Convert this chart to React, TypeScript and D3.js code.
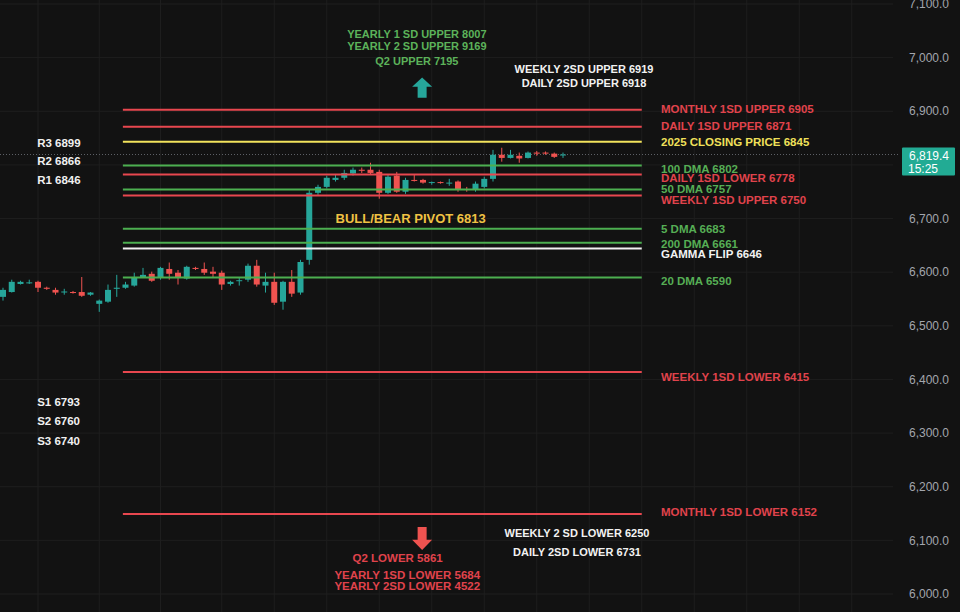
import React from "react";
import * as d3 from "d3";

const W = 960;
const H = 612;

// ---- candle data (price) ----
const opens = [6554, 6563, 6578, 6580, 6582, 6571, 6567, 6563, 6563, 6563, 6558, 6541, 6545, 6569, 6571, 6575, 6591, 6597, 6590, 6606, 6599, 6588, 6608, 6606, 6601, 6599, 6578, 6584, 6586, 6612, 6575, 6582, 6545, 6582, 6562, 6623, 6748, 6759, 6772, 6776, 6784, 6791, 6791, 6787, 6748, 6780, 6750, 6772, 6772, 6767, 6768, 6766, 6769, 6755, 6754, 6759, 6774, 6819, 6813, 6817, 6813, 6823, 6823, 6821, 6819];
const highs = [6571, 6586, 6584, 6586, 6584, 6573, 6571, 6569, 6565, 6591, 6563, 6549, 6577, 6595, 6582, 6599, 6608, 6601, 6610, 6618, 6604, 6612, 6610, 6618, 6610, 6603, 6584, 6590, 6616, 6623, 6599, 6599, 6584, 6604, 6623, 6754, 6763, 6780, 6782, 6791, 6795, 6795, 6804, 6791, 6782, 6787, 6776, 6782, 6774, 6769, 6769, 6774, 6771, 6759, 6769, 6778, 6828, 6832, 6828, 6823, 6825, 6826, 6825, 6823, 6823];
const lows = [6547, 6562, 6577, 6578, 6563, 6567, 6558, 6558, 6560, 6554, 6556, 6526, 6543, 6554, 6569, 6573, 6590, 6582, 6586, 6586, 6577, 6586, 6604, 6595, 6591, 6567, 6575, 6575, 6582, 6573, 6562, 6539, 6530, 6554, 6558, 6614, 6744, 6756, 6769, 6772, 6780, 6785, 6782, 6737, 6746, 6748, 6746, 6769, 6765, 6763, 6765, 6761, 6750, 6750, 6750, 6756, 6769, 6806, 6812, 6804, 6812, 6817, 6819, 6813, 6813];
const closes = [6567, 6582, 6582, 6581, 6571, 6569, 6562, 6564, 6562, 6556, 6562, 6547, 6567, 6571, 6577, 6591, 6595, 6584, 6608, 6597, 6590, 6610, 6606, 6599, 6597, 6577, 6582, 6585, 6612, 6577, 6582, 6543, 6582, 6560, 6619, 6748, 6759, 6776, 6776, 6785, 6791, 6789, 6785, 6748, 6778, 6750, 6772, 6771, 6767, 6768, 6767, 6767, 6754, 6754, 6765, 6774, 6819, 6813, 6819, 6812, 6823, 6821, 6821, 6815, 6819.4];

// ---- level lines ----
const levelValues = [6903, 6871, 6843, 6799, 6782, 6754, 6743, 6681, 6655, 6644, 6590, 6414, 6149];
const levelKinds = ["red", "red", "yellow", "green", "red", "green", "red", "green", "green", "white", "green", "red", "red"];
const levelLabels = [
  "MONTHLY 1SD UPPER 6905",
  "DAILY 1SD UPPER 6871",
  "2025 CLOSING PRICE 6845",
  "100 DMA 6802",
  "DAILY 1SD LOWER 6778",
  "50 DMA 6757",
  "WEEKLY 1SD UPPER 6750",
  "5 DMA 6683",
  "200 DMA 6661",
  "GAMMA FLIP 6646",
  "20 DMA 6590",
  "WEEKLY 1SD LOWER 6415",
  "MONTHLY 1SD LOWER 6152",
];
const levelLabelAt = [6905, 6873, 6843, 6793, 6776, 6756, 6735, 6681, 6653, 6634, 6584, 6405, 6153];

// ---- pivot labels ----
const resistLabels = ["R3 6899", "R2 6866", "R1 6846"];
const resistAt = [6841, 6808, 6771];
const supportLabels = ["S1 6793", "S2 6760", "S3 6740"];
const supportAt = [6358, 6323, 6285];

// ---- annotations ----
const upperTargets = ["YEARLY 1 SD UPPER 8007", "YEARLY 2 SD UPPER 9169", "Q2 UPPER  7195"];
const upperTargetsAt = [7043, 7022, 6994];
const upper2sd = ["WEEKLY 2SD UPPER 6919", "DAILY 2SD UPPER 6918"];
const upper2sdAt = [6979, 6953];
const lowerTargets = ["Q2 LOWER 5861", "YEARLY 1SD LOWER 5684", "YEARLY 2SD LOWER 4522"];
const lowerTargetsAt = [6067, 6035, 6015];
const lower2sd = ["WEEKLY 2 SD LOWER 6250", "DAILY 2SD LOWER 6731"];
const lower2sdAt = [6114, 6078];
const pivotText = "BULL/BEAR PIVOT 6813";
const pivotAt = 6701;

const yTicks = [6000, 6100, 6200, 6300, 6400, 6500, 6600, 6700, 6800, 6900, 7000, 7100];
const timeGrid = [4, 11, 18, 25, 31, 37, 43, 49, 55, 61, 67, 73, 79, 85, 91, 97];
const lastPrice = 6819.4;
const lastTime = "15:25";

const COLORS: Record<string, string> = {
  red: "#e8474f",
  green: "#4caf50",
  yellow: "#f2e35c",
  white: "#f2f2f2",
};
const LABEL_COLORS: Record<string, string> = {
  red: "#e0434c",
  green: "#56ae55",
  yellow: "#f0e05a",
  white: "#f2f2f2",
};
const UP = "#26a69a";
const DOWN = "#ef5350";
const FONT = "'Liberation Sans', Arial, sans-serif";

export default function App() {
  const x = d3.scaleLinear().domain([0, 64]).range([3, 563]);
  const y = d3.scaleLinear().domain([6000, 7100]).range([594, 4]);
  const bodyW = 6;
  const fmt = d3.format(",.1f");

  const arrowUp = (cx: number, top: number, bottom: number, color: string) => {
    const head = (bottom - top) * 0.45;
    const d = `M${cx},${top} L${cx + 10},${top + head} L${cx + 4.5},${top + head} L${cx + 4.5},${bottom} L${cx - 4.5},${bottom} L${cx - 4.5},${top + head} L${cx - 10},${top + head} Z`;
    return <path d={d} fill={color} />;
  };
  const arrowDown = (cx: number, top: number, bottom: number, color: string) => {
    const head = (bottom - top) * 0.45;
    const d = `M${cx},${bottom} L${cx + 10},${bottom - head} L${cx + 4.5},${bottom - head} L${cx + 4.5},${top} L${cx - 4.5},${top} L${cx - 4.5},${bottom - head} L${cx - 10},${bottom - head} Z`;
    return <path d={d} fill={color} />;
  };

  const lineX0 = x(13.7);
  const lineX1 = x(73);
  const labelX = x(75.2);

  return (
    <div style={{ position: "fixed", left: 0, top: 0, width: W, height: H }}>
      <svg width={W} height={H} style={{ display: "block", background: "#121212" }} fontFamily={FONT}>
        <rect width={W} height={H} fill="#121212" />
        {/* grid */}
        {yTicks.map((t) => (
          <line key={"gy" + t} x1={0} x2={893} y1={y(t)} y2={y(t)} stroke="#1e1e1e" strokeWidth={1} />
        ))}
        {timeGrid.map((t) => (
          <line key={"gx" + t} x1={x(t)} x2={x(t)} y1={0} y2={H} stroke="#1e1e1e" strokeWidth={1} />
        ))}
        {/* last price dotted line */}
        <line x1={0} x2={900} y1={y(lastPrice)} y2={y(lastPrice)} stroke="#5d6066" strokeWidth={1} strokeDasharray="1 2" />

        {/* candles */}
        {opens.map((o, i) => {
          const c = closes[i];
          const up = c >= o;
          const col = up ? UP : DOWN;
          const top = y(Math.max(o, c));
          const bot = y(Math.min(o, c));
          return (
            <g key={"c" + i}>
              <line x1={x(i)} x2={x(i)} y1={y(highs[i])} y2={y(lows[i])} stroke={col} strokeWidth={1} />
              <rect x={x(i) - bodyW / 2} y={top} width={bodyW} height={Math.max(1, bot - top)} fill={col} />
            </g>
          );
        })}

        {/* level lines */}
        {levelValues.map((v, i) => (
          <line key={"l" + i} x1={lineX0} x2={lineX1} y1={y(v)} y2={y(v)} stroke={COLORS[levelKinds[i]]} strokeWidth={2} />
        ))}
        {levelLabels.map((t, i) => (
          <text key={"lt" + i} x={labelX} y={y(levelLabelAt[i])} dy="0.35em" fill={LABEL_COLORS[levelKinds[i]]} fontSize={11.5} fontWeight="bold">
            {t}
          </text>
        ))}

        {/* pivots */}
        {resistLabels.map((t, i) => (
          <text key={"r" + i} x={x(3.9)} y={y(resistAt[i])} dy="0.35em" fill="#f0f0f0" fontSize={11.5} fontWeight="bold">{t}</text>
        ))}
        {supportLabels.map((t, i) => (
          <text key={"s" + i} x={x(3.9)} y={y(supportAt[i])} dy="0.35em" fill="#f0f0f0" fontSize={11.5} fontWeight="bold">{t}</text>
        ))}
        <text x={x(38)} y={y(pivotAt)} dy="0.35em" fill="#f0c243" fontSize={13} fontWeight="bold">{pivotText}</text>

        {/* upper annotations */}
        {upperTargets.map((t, i) => (
          <text key={"ut" + i} x={x(47.3)} y={y(upperTargetsAt[i])} dy="0.35em" textAnchor="middle" fill="#5cb25a" fontSize={11} fontWeight="bold">{t}</text>
        ))}
        {arrowUp(x(47.9), y(6963), y(6925), UP)}
        {upper2sd.map((t, i) => (
          <text key={"u2" + i} x={x(66.4)} y={y(upper2sdAt[i])} dy="0.35em" textAnchor="middle" fill="#f2f2f2" fontSize={11} fontWeight="bold">{t}</text>
        ))}

        {/* lower annotations */}
        {arrowDown(x(47.9), y(6125), y(6082), DOWN)}
        {lowerTargets.map((t, i) => (
          <text key={"lw" + i} x={x(i === 0 ? 45.1 : 46.2)} y={y(lowerTargetsAt[i])} dy="0.35em" textAnchor="middle" fill="#e0434c" fontSize={11.5} fontWeight="bold">{t}</text>
        ))}
        {lower2sd.map((t, i) => (
          <text key={"l2" + i} x={x(65.6)} y={y(lower2sdAt[i])} dy="0.35em" textAnchor="middle" fill="#f2f2f2" fontSize={11} fontWeight="bold">{t}</text>
        ))}

        {/* right axis */}
        {yTicks.filter((t) => t !== 6800).map((t) => (
          <text key={"yt" + t} x={949} y={y(t)} dy="0.35em" textAnchor="end" fill="#a3a6ad" fontSize={12}>
            {fmt(t)}
          </text>
        ))}
        <rect x={902} y={y(lastPrice) - 7} width={53} height={28} rx={1} fill="#22ab94" />
        <text x={949} y={y(lastPrice) + 1} dy="0.35em" textAnchor="end" fill="#ffffff" fontSize={12}>{fmt(lastPrice)}</text>
        <text x={908} y={y(lastPrice) + 14} dy="0.35em" textAnchor="start" fill="#ffffff" fontSize={12}>{lastTime}</text>
      </svg>
    </div>
  );
}
